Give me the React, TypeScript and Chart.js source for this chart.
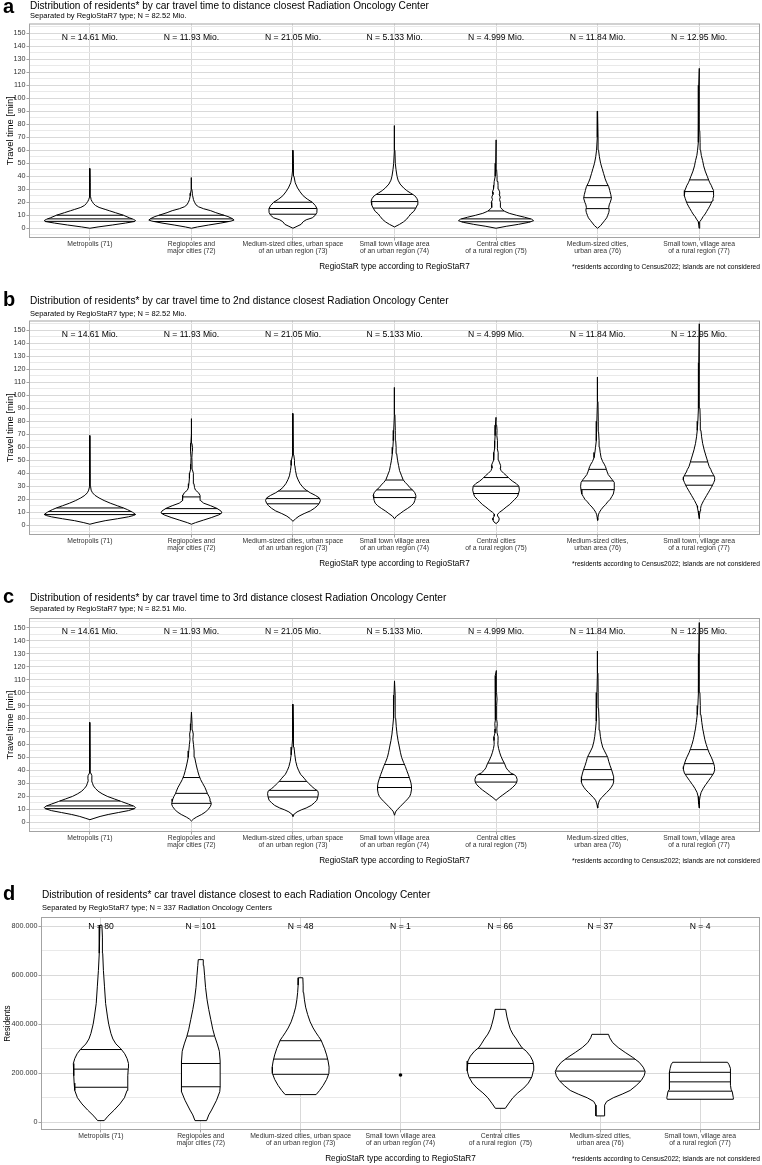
import React, { useEffect, useRef } from "react";
import { Chart, registerables } from "chart.js";

Chart.register(...registerables);

type Profile = [number, number][];

// ---------- data ----------
const categories: string[][] = [
  ["Metropolis (71)"],
  ["Regiopoles and", "major cities (72)"],
  ["Medium-sized cities, urban space", "of an urban region (73)"],
  ["Small town village area", "of an urban region (74)"],
  ["Central cities", "of a rural region (75)"],
  ["Medium-sized cities,", "urban area (76)"],
  ["Small town, village area", "of a rural region (77)"],
];

const categoriesCenters: string[][] = [
  ["Metropolis (71)"],
  ["Regiopoles and", "major cities (72)"],
  ["Medium-sized cities, urban space", "of an urban region (73)"],
  ["Small town village area", "of an urban region (74)"],
  ["Central cities", "of a rural region  (75)"],
  ["Medium-sized cities,", "urban area (76)"],
  ["Small town, village area", "of a rural region (77)"],
];

const nResidents = [
  "N = 14.61 Mio.",
  "N = 11.93 Mio.",
  "N = 21.05 Mio.",
  "N = 5.133 Mio.",
  "N = 4.999 Mio.",
  "N = 11.84 Mio.",
  "N = 12.95 Mio.",
];
const nCenters = ["N = 80", "N = 101", "N = 48", "N = 1", "N = 66", "N = 37", "N = 4"];

// violin outlines: [travel time (min), half width (category units)]
const firstProfiles: Profile[] = [
  [[0, 0], [1, 0.08], [2.5, 0.22], [4, 0.35], [5.2, 0.44], [5.9, 0.45], [6.8, 0.43], [8, 0.39], [10, 0.33], [12, 0.25], [13.5, 0.19], [14.5, 0.15], [16, 0.09], [17.5, 0.055], [19, 0.035], [20.5, 0.022], [22, 0.012], [24, 0.007], [28, 0.004], [35, 0.003], [46, 0]],
  [[0, 0], [1, 0.06], [2.5, 0.17], [4, 0.29], [5.5, 0.39], [6.3, 0.42], [7.5, 0.4], [9, 0.36], [10.5, 0.3], [12, 0.24], [13.5, 0.19], [15, 0.12], [16.5, 0.07], [18, 0.045], [20, 0.03], [22, 0.02], [25, 0.012], [27, 0.009], [30, 0.004], [39, 0]],
  [[0, 0], [1.5, 0.04], [3, 0.08], [5, 0.1], [6.5, 0.13], [8, 0.19], [10, 0.22], [12, 0.235], [15, 0.237], [17.5, 0.22], [20, 0.19], [22.5, 0.14], [25, 0.1], [28, 0.07], [31, 0.045], [35, 0.022], [40, 0.01], [45, 0.006], [50, 0.004], [60, 0]],
  [[1, 0], [3, 0.05], [5, 0.09], [7, 0.12], [9, 0.14], [11, 0.16], [13, 0.19], [15.5, 0.21], [18, 0.225], [21, 0.23], [23, 0.22], [25, 0.2], [27, 0.16], [29, 0.12], [31, 0.09], [34, 0.055], [37, 0.035], [40, 0.025], [45, 0.015], [50, 0.008], [60, 0.004], [79, 0]],
  [[0, 0], [1.5, 0.1], [3, 0.22], [4.5, 0.32], [5.8, 0.37], [7, 0.35], [8.5, 0.28], [10, 0.2], [11.5, 0.13], [13, 0.085], [14.5, 0.06], [16, 0.045], [18, 0.04], [20, 0.046], [22, 0.035], [24, 0.042], [26, 0.03], [28, 0.036], [30, 0.025], [33, 0.02], [36, 0.018], [40, 0.01], [45, 0.006], [50, 0.003], [68, 0]],
  [[0, 0], [2, 0.03], [4, 0.05], [6, 0.07], [8, 0.09], [10, 0.1], [12, 0.11], [14, 0.115], [16, 0.11], [18, 0.115], [20, 0.125], [23, 0.137], [26, 0.13], [29, 0.12], [32, 0.11], [35, 0.09], [38, 0.075], [42, 0.06], [46, 0.045], [50, 0.03], [55, 0.018], [60, 0.01], [70, 0.005], [90, 0]],
  [[0, 0], [3, 0.004], [5, 0.008], [7, 0.025], [9, 0.04], [11, 0.06], [13, 0.075], [15, 0.09], [17, 0.105], [19, 0.118], [21, 0.128], [23, 0.137], [25, 0.145], [27, 0.145], [29, 0.14], [31, 0.13], [33, 0.12], [35, 0.105], [37, 0.095], [40, 0.08], [44, 0.06], [48, 0.045], [52, 0.035], [56, 0.022], [60, 0.015], [66, 0.01], [75, 0.007], [90, 0.005], [110, 0.003], [123, 0]],
];
const firstQuartiles = [
  [5.3, 7.2, 10], [5.2, 7.2, 10], [10.8, 15.2, 20], [15.5, 20.5, 26],
  [5, 7.2, 13.3], [15.1, 23.5, 32.8], [20, 28.2, 37.2],
];

const secondProfiles: Profile[] = [
  [[0.8, 0], [2, 0.06], [3.5, 0.15], [5, 0.27], [6.5, 0.38], [7.5, 0.43], [8.3, 0.45], [10, 0.42], [12, 0.37], [13.3, 0.33], [15, 0.27], [17, 0.2], [19, 0.14], [21, 0.09], [23, 0.05], [25, 0.025], [27, 0.012], [30, 0.006], [40, 0.003], [69, 0]],
  [[0.8, 0], [2, 0.04], [4, 0.12], [6, 0.2], [8, 0.27], [9.5, 0.3], [11, 0.29], [13, 0.25], [15, 0.19], [17, 0.12], [19, 0.09], [21, 0.085], [23, 0.085], [25, 0.07], [27, 0.04], [29, 0.03], [32, 0.025], [36, 0.02], [40, 0.018], [43, 0.008], [47, 0.006], [52, 0.004], [57, 0.008], [60, 0.01], [63, 0.005], [70, 0.004], [82, 0]],
  [[3, 0], [5, 0.025], [7, 0.06], [9, 0.11], [11, 0.17], [13, 0.21], [15, 0.24], [17, 0.26], [19, 0.27], [21, 0.26], [23, 0.22], [25, 0.17], [27, 0.13], [29, 0.1], [32, 0.07], [35, 0.05], [38, 0.035], [42, 0.025], [46, 0.018], [50, 0.015], [54, 0.008], [60, 0.004], [86, 0]],
  [[5, 0], [7, 0.02], [9, 0.055], [11, 0.09], [13, 0.13], [15, 0.165], [17, 0.19], [19, 0.2], [21, 0.205], [23, 0.21], [25, 0.2], [27, 0.18], [29, 0.15], [31, 0.13], [33, 0.105], [35, 0.085], [38, 0.07], [42, 0.05], [46, 0.04], [50, 0.03], [55, 0.022], [60, 0.016], [65, 0.012], [73, 0.008], [85, 0.004], [106, 0]],
  [[1.3, 0], [2.5, 0.02], [4, 0.03], [5.5, 0.03], [7, 0.018], [8.5, 0.015], [10, 0.035], [12, 0.07], [14, 0.1], [16, 0.135], [18, 0.16], [20, 0.185], [22, 0.21], [24, 0.22], [27, 0.23], [30, 0.225], [32, 0.2], [34, 0.16], [36, 0.13], [38, 0.105], [40, 0.075], [42, 0.05], [44, 0.04], [46, 0.045], [48, 0.035], [50, 0.025], [53, 0.022], [56, 0.02], [59, 0.012], [62, 0.016], [65, 0.012], [69, 0.008], [73, 0.01], [77, 0.006], [83, 0]],
  [[3.8, 0], [6, 0.004], [8, 0.008], [10, 0.018], [12, 0.035], [14, 0.055], [16, 0.08], [18, 0.1], [20, 0.125], [22, 0.14], [24, 0.155], [27, 0.163], [30, 0.167], [33, 0.162], [35, 0.145], [37, 0.125], [39, 0.105], [41, 0.095], [43, 0.087], [45, 0.078], [47, 0.066], [49, 0.05], [52, 0.035], [56, 0.026], [60, 0.02], [65, 0.015], [72, 0.01], [80, 0.007], [95, 0.004], [114, 0]],
  [[5, 0], [8, 0.004], [11, 0.01], [13, 0.015], [15, 0.02], [17, 0.032], [19, 0.045], [21, 0.06], [23, 0.075], [25, 0.09], [27, 0.105], [29, 0.12], [31, 0.133], [33, 0.145], [35, 0.155], [37, 0.153], [39, 0.14], [41, 0.125], [43, 0.115], [45, 0.1], [48, 0.088], [51, 0.077], [54, 0.065], [58, 0.05], [63, 0.035], [68, 0.025], [73, 0.018], [80, 0.012], [90, 0.008], [105, 0.005], [125, 0.003], [155, 0]],
];
const secondQuartiles = [
  [8.2, 10.5, 13.3], [9, 12.8, 21.8], [16.5, 20.5, 26.3], [21.3, 27.2, 34.8],
  [24.4, 30, 36.7], [27.4, 34.1, 43], [30.8, 38, 48.7],
];

const thirdProfiles: Profile[] = [
  [[2, 0], [3, 0.04], [4.5, 0.1], [6, 0.18], [7.5, 0.28], [9, 0.38], [10.5, 0.44], [11.3, 0.45], [12.5, 0.43], [14, 0.38], [16, 0.31], [18, 0.24], [20, 0.17], [22, 0.12], [24, 0.08], [26, 0.055], [28, 0.035], [30, 0.025], [32, 0.017], [34, 0.02], [36, 0.018], [38, 0.008], [42, 0.004], [50, 0.003], [77, 0]],
  [[1, 0], [2.5, 0.02], [4, 0.05], [6, 0.1], [8, 0.14], [10, 0.165], [12, 0.185], [14, 0.195], [16, 0.19], [18, 0.183], [20, 0.172], [22, 0.158], [24, 0.148], [27, 0.132], [30, 0.11], [33, 0.09], [36, 0.075], [40, 0.06], [45, 0.045], [50, 0.032], [55, 0.026], [60, 0.02], [64, 0.014], [68, 0.018], [71, 0.01], [76, 0.006], [85, 0]],
  [[4.5, 0], [6, 0.008], [8, 0.04], [9.5, 0.08], [11, 0.13], [13, 0.18], [15, 0.21], [17, 0.235], [19.5, 0.245], [22, 0.25], [24, 0.245], [26, 0.21], [28, 0.18], [30, 0.155], [32, 0.13], [34, 0.11], [37, 0.075], [40, 0.055], [43, 0.04], [47, 0.027], [52, 0.018], [58, 0.01], [65, 0.006], [75, 0.004], [91, 0]],
  [[5.4, 0], [8, 0.01], [10, 0.03], [12, 0.055], [14, 0.08], [16, 0.105], [18, 0.13], [20, 0.15], [22, 0.16], [25, 0.167], [28, 0.167], [31, 0.16], [34, 0.148], [37, 0.135], [40, 0.12], [43, 0.107], [46, 0.09], [50, 0.07], [54, 0.058], [58, 0.048], [63, 0.035], [68, 0.025], [74, 0.017], [80, 0.012], [88, 0.008], [98, 0.005], [109, 0]],
  [[16.9, 0], [19, 0.03], [21, 0.065], [23, 0.1], [25, 0.135], [27, 0.165], [29, 0.19], [31, 0.205], [33, 0.208], [35, 0.2], [36.5, 0.185], [38, 0.145], [40, 0.118], [42, 0.1], [45, 0.085], [48, 0.065], [51, 0.048], [54, 0.035], [57, 0.025], [60, 0.018], [63, 0.02], [66, 0.02], [69, 0.01], [72, 0.008], [76, 0.012], [79, 0.007], [84, 0.005], [90, 0.007], [95, 0.01], [100, 0.005], [105, 0.003], [110, 0.006], [113, 0.008], [117, 0]],
  [[11, 0], [13, 0.004], [15, 0.01], [17, 0.02], [19, 0.04], [21, 0.065], [23, 0.09], [25, 0.115], [27, 0.135], [29, 0.15], [31, 0.158], [33, 0.16], [35, 0.157], [38, 0.148], [41, 0.136], [44, 0.122], [47, 0.11], [50, 0.1], [52, 0.088], [55, 0.068], [58, 0.05], [62, 0.037], [66, 0.028], [71, 0.021], [78, 0.015], [88, 0.01], [100, 0.006], [115, 0.004], [132, 0]],
  [[11, 0], [14, 0.003], [17, 0.005], [20, 0.01], [23, 0.02], [26, 0.04], [29, 0.065], [32, 0.093], [35, 0.12], [38, 0.145], [41, 0.155], [43, 0.152], [45, 0.145], [48, 0.132], [51, 0.115], [54, 0.097], [57, 0.083], [60, 0.07], [64, 0.056], [68, 0.046], [72, 0.036], [77, 0.027], [83, 0.018], [90, 0.012], [100, 0.008], [115, 0.005], [130, 0.003], [154, 0]],
];
const thirdQuartiles = [
  [10.5, 12.6, 16.4], [14.6, 22.3, 34.5], [19.5, 24.6, 31.5], [26.8, 34.5, 44.6],
  [31, 36.8, 45.6], [32.8, 40.6, 50.5], [37, 45.2, 56],
];

// residents per centre: [residents, half width]
const centerProfiles: Profile[] = [
  [[6800, 0.033], [25000, 0.07], [50000, 0.133], [75000, 0.19], [100000, 0.235], [130000, 0.262], [160000, 0.268], [190000, 0.27], [220000, 0.274], [240000, 0.276], [260000, 0.262], [280000, 0.238], [300000, 0.2], [320000, 0.15], [340000, 0.12], [363000, 0.1], [400000, 0.078], [430000, 0.066], [485000, 0.047], [553000, 0.036], [620000, 0.025], [690000, 0.018], [756000, 0.015], [805000, 0.01]],
  [[6800, 0.058], [30000, 0.08], [50000, 0.108], [90000, 0.158], [125000, 0.19], [150000, 0.195], [200000, 0.195], [250000, 0.193], [290000, 0.186], [320000, 0.165], [350000, 0.14], [380000, 0.12], [420000, 0.1], [460000, 0.08], [500000, 0.063], [550000, 0.048], [600000, 0.038], [640000, 0.03], [664000, 0.025]],
  [[113000, 0.155], [130000, 0.19], [150000, 0.225], [175000, 0.26], [200000, 0.283], [225000, 0.285], [250000, 0.275], [275000, 0.26], [300000, 0.24], [320000, 0.22], [335000, 0.205], [350000, 0.18], [365000, 0.155], [385000, 0.125], [410000, 0.095], [440000, 0.07], [470000, 0.05], [500000, 0.038], [530000, 0.03], [560000, 0.025], [590000, 0.022]],
  [],
  [[57000, 0.05], [75000, 0.08], [100000, 0.125], [120000, 0.175], [140000, 0.235], [160000, 0.28], [185000, 0.315], [210000, 0.33], [230000, 0.334], [250000, 0.325], [270000, 0.3], [290000, 0.26], [305000, 0.215], [320000, 0.19], [340000, 0.16], [360000, 0.125], [380000, 0.1], [400000, 0.085], [430000, 0.066], [461000, 0.053]],
  [[26000, 0.043], [50000, 0.043], [70000, 0.045], [85000, 0.065], [100000, 0.13], [115000, 0.22], [130000, 0.3], [150000, 0.36], [170000, 0.41], [190000, 0.44], [207000, 0.45], [225000, 0.43], [245000, 0.39], [265000, 0.325], [285000, 0.25], [305000, 0.18], [325000, 0.125], [345000, 0.095], [359000, 0.083]],
  [[94000, 0.33], [100000, 0.333], [125000, 0.322], [135000, 0.31], [150000, 0.305], [180000, 0.305], [205000, 0.307], [220000, 0.3], [235000, 0.29], [245000, 0.275]],
];
const centerQuartiles = [
  [143000, 217000, 297000], [145000, 240000, 352000], [196000, 258000, 333000], [],
  [182000, 240000, 302000], [168000, 209000, 258000], [127000, 165000, 204000],
];
// category with a single centre: drawn as a point
const centerSingles = [{ category: 4, residents: 193000 }];

// ---------- text ----------
const X_TITLE = "RegioStaR type according to RegioStaR7";
const FOOTNOTE = "*residents according to Census2022; islands are not considered";
const FONT = "'Liberation Sans', Arial, Helvetica, sans-serif";

const MAJOR_GRID = "#d9d9d9";
const MINOR_GRID = "#e9e9e9";
const FRAME = "#a3a3a3";
const TICK_TEXT = "#333333";

Chart.defaults.font.family = FONT;

function widthAt(profile: Profile, v: number): number {
  for (let i = 0; i < profile.length - 1; i++) {
    const [v0, w0] = profile[i];
    const [v1, w1] = profile[i + 1];
    if (v >= v0 && v <= v1) return w0 + ((w1 - w0) * (v - v0)) / (v1 - v0);
  }
  return 0;
}

// outlines sit below (order 1), quartile lines and points on top (order 0)
function buildDatasets(profiles: Profile[], quartiles: number[][], singles: { category: number; residents: number }[]) {
  const sets: any[] = [];
  profiles.forEach((p, i) => {
    if (!p.length) return;
    const c = i + 1;
    const right = p.map(([v, w]) => ({ x: c + w, y: v }));
    const left = [...p].reverse().map(([v, w]) => ({ x: c - w, y: v }));
    sets.push({
      data: [...right, ...left, right[0]],
      order: 1,
      borderColor: "#000",
      borderWidth: 1,
      backgroundColor: "#fff",
      fill: "shape",
      pointRadius: 0,
      tension: 0,
    });
  });
  quartiles.forEach((qs, i) => {
    qs.forEach((q) => {
      const w = widthAt(profiles[i], q);
      sets.push({
        data: [{ x: i + 1 - w, y: q }, { x: i + 1 + w, y: q }],
        order: 0,
        borderColor: "#000",
        borderWidth: 1,
        fill: false,
        pointRadius: 0,
      });
    });
  });
  singles.forEach((s) => {
    sets.push({
      data: [{ x: s.category, y: s.residents }],
      order: 0,
      showLine: false,
      pointRadius: 1.8,
      pointBackgroundColor: "#000",
      pointBorderColor: "#000",
      pointBorderWidth: 0,
    });
  });
  return sets;
}

const formatResidents = (v: number) =>
  v === 0 ? "0" : String(v).replace(/\B(?=(\d{3})+(?!\d))/g, ".");

type PanelSpec = {
  letter: string;
  title: string;
  subtitle: string;
  yTitle: string;
  yTitleSize: number;
  labels: string[][];
  nLabels: string[];
  nAt: number;
  profiles: Profile[];
  quartiles: number[][];
  singles: { category: number; residents: number }[];
  yMin: number;
  yMax: number;
  gridFrom: number;
  gridTo: number;
  gridStep: number;
  labelStep: number;
  format: (v: number) => string;
  top: number;
  height: number;
  chartTop: number;
  chartBottom: number;
  axisWidth: number;
  yTitleX: number;
  titleY: number;
  subtitleY: number;
  letterY: number;
};

const travelAxis = {
  yTitle: "Travel time [min]",
  yTitleSize: 9.4,
  yMin: -7.5,
  yMax: 157.5,
  gridFrom: -5,
  gridTo: 155,
  gridStep: 5,
  labelStep: 10,
  format: (v: number) => String(v),
  nAt: 147,
  axisWidth: 29,
  yTitleX: 10,
};

const panels: PanelSpec[] = [
  {
    ...travelAxis,
    letter: "a",
    title: "Distribution of residents* by car travel time to distance closest Radiation Oncology Center",
    subtitle: "Separated by RegioStaR7 type; N = 82.52 Mio.",
    labels: categories,
    nLabels: nResidents,
    profiles: firstProfiles,
    quartiles: firstQuartiles,
    singles: [],
    top: 0, height: 290, chartTop: 23.5, chartBottom: 238, titleY: 6, subtitleY: 16, letterY: 12.5,
  },
  {
    ...travelAxis,
    letter: "b",
    title: "Distribution of residents* by car travel time to 2nd distance closest Radiation Oncology Center",
    subtitle: "Separated by RegioStaR7 type; N = 82.52 Mio.",
    labels: categories,
    nLabels: nResidents,
    profiles: secondProfiles,
    quartiles: secondQuartiles,
    singles: [],
    top: 290, height: 290, chartTop: 30.5, chartBottom: 245, titleY: 11.7, subtitleY: 24, letterY: 16,
  },
  {
    ...travelAxis,
    letter: "c",
    title: "Distribution of residents* by car travel time to 3rd distance closest Radiation Oncology Center",
    subtitle: "Separated by RegioStaR7 type; N = 82.51 Mio.",
    labels: categories,
    nLabels: nResidents,
    profiles: thirdProfiles,
    quartiles: thirdQuartiles,
    singles: [],
    top: 580, height: 290, chartTop: 38, chartBottom: 252, titleY: 18.3, subtitleY: 29.3, letterY: 23,
  },
  {
    letter: "d",
    title: "Distribution of residents* car travel distance closest to each Radiation Oncology Center",
    subtitle: "Separated by RegioStaR7 type; N = 337 Radiation Oncology Centers",
    yTitle: "Residents",
    yTitleSize: 8.2,
    labels: categoriesCenters,
    nLabels: nCenters,
    nAt: 800000,
    profiles: centerProfiles,
    quartiles: centerQuartiles,
    singles: centerSingles,
    yMin: -31500,
    yMax: 838000,
    gridFrom: 0,
    gridTo: 800000,
    gridStep: 100000,
    labelStep: 200000,
    format: formatResidents,
    top: 870, height: 295, chartTop: 47, chartBottom: 260, axisWidth: 41, yTitleX: 8,
    titleY: 25, subtitleY: 38, letterY: 30,
  },
];

function ViolinPanel({ spec }: { spec: PanelSpec }) {
  const ref = useRef<HTMLCanvasElement | null>(null);

  useEffect(() => {
    if (!ref.current) return;
    const s = spec;
    const isMajor = (v: number) => Math.abs(v % s.labelStep) < 1e-9;

    const textPlugin = {
      id: "panelText",
      afterDraw(chart: any) {
        const { ctx, chartArea: a } = chart;
        const xs = chart.scales.x;
        const ys = chart.scales.y;
        ctx.save();
        ctx.strokeStyle = FRAME;
        ctx.lineWidth = 1;
        ctx.strokeRect(a.left + 0.5, a.top + 0.5, a.right - a.left - 1, a.bottom - a.top - 1);

        ctx.fillStyle = "#000";
        ctx.textAlign = "left";
        ctx.textBaseline = "alphabetic";
        ctx.font = `bold 20px ${FONT}`;
        ctx.fillText(s.letter, 3, s.letterY);

        ctx.textBaseline = "middle";
        ctx.font = `10.1px ${FONT}`;
        ctx.fillText(s.title, a.left + 1, s.titleY);
        ctx.font = `7.5px ${FONT}`;
        ctx.fillText(s.subtitle, a.left + 1, s.subtitleY);

        ctx.textAlign = "center";
        ctx.font = `8.6px ${FONT}`;
        s.nLabels.forEach((t, i) => {
          ctx.fillText(t, xs.getPixelForValue(i + 1), ys.getPixelForValue(s.nAt));
        });

        ctx.font = `8.2px ${FONT}`;
        ctx.fillText(X_TITLE, (a.left + a.right) / 2, a.bottom + 29);

        ctx.textAlign = "right";
        ctx.font = `6.65px ${FONT}`;
        ctx.fillText(FOOTNOTE, a.right, a.bottom + 29.5);

        ctx.translate(s.yTitleX, (a.top + a.bottom) / 2);
        ctx.rotate(-Math.PI / 2);
        ctx.textAlign = "center";
        ctx.font = `${s.yTitleSize}px ${FONT}`;
        ctx.fillText(s.yTitle, 0, 0);
        ctx.restore();
      },
    };

    const yTicks: number[] = [];
    for (let v = s.gridFrom; v <= s.gridTo + 1e-9; v += s.gridStep) yTicks.push(v);

    const chart = new Chart(ref.current, {
      type: "line",
      data: { datasets: buildDatasets(s.profiles, s.quartiles, s.singles) },
      options: {
        animation: false,
        responsive: false,
        events: [],
        layout: { padding: { top: s.chartTop, left: 0, right: 2, bottom: 0 }, autoPadding: false },
        plugins: { legend: { display: false }, tooltip: { enabled: false } },
        scales: {
          x: {
            type: "linear",
            min: 0.4,
            max: 7.6,
            afterBuildTicks: (axis: any) => {
              axis.ticks = s.labels.map((_, i) => ({ value: i + 1 }));
            },
            afterFit: (axis: any) => {
              axis.height = s.height - s.chartBottom;
            },
            ticks: {
              autoSkip: false,
              maxRotation: 0,
              padding: 0,
              color: TICK_TEXT,
              font: { size: 6.8, lineHeight: 1.0 },
              callback: (v: any) => s.labels[Math.round(Number(v)) - 1] ?? "",
            },
            grid: { color: MAJOR_GRID, lineWidth: 1, tickLength: 2.5, tickColor: FRAME },
            border: { display: false },
          },
          y: {
            type: "linear",
            min: s.yMin,
            max: s.yMax,
            afterBuildTicks: (axis: any) => {
              axis.ticks = yTicks.map((v) => ({ value: v }));
            },
            afterFit: (axis: any) => {
              axis.width = s.axisWidth;
            },
            ticks: {
              autoSkip: false,
              padding: 1,
              color: TICK_TEXT,
              font: { size: 7.2 },
              callback: (v: any) => (isMajor(Number(v)) ? s.format(Number(v)) : ""),
            },
            grid: {
              color: (ctx: any) => (ctx.tick && isMajor(ctx.tick.value) ? MAJOR_GRID : MINOR_GRID),
              lineWidth: 1,
              tickLength: 2.5,
              tickColor: (ctx: any) => (ctx.tick && isMajor(ctx.tick.value) ? FRAME : "rgba(0,0,0,0)"),
            },
            border: { display: false },
          },
        },
      } as any,
      plugins: [textPlugin],
    });
    return () => chart.destroy();
  }, [spec]);

  return (
    <div style={{ position: "absolute", left: 0, top: spec.top, width: 762, height: spec.height }}>
      <canvas ref={ref} width={762} height={spec.height} style={{ display: "block", width: 762, height: spec.height }} />
    </div>
  );
}

export default function App() {
  return (
    <div style={{ position: "absolute", left: 0, top: 0, width: 762, height: 1165, background: "#fff" }}>
      {panels.map((p) => (
        <ViolinPanel key={p.letter} spec={p} />
      ))}
    </div>
  );
}
